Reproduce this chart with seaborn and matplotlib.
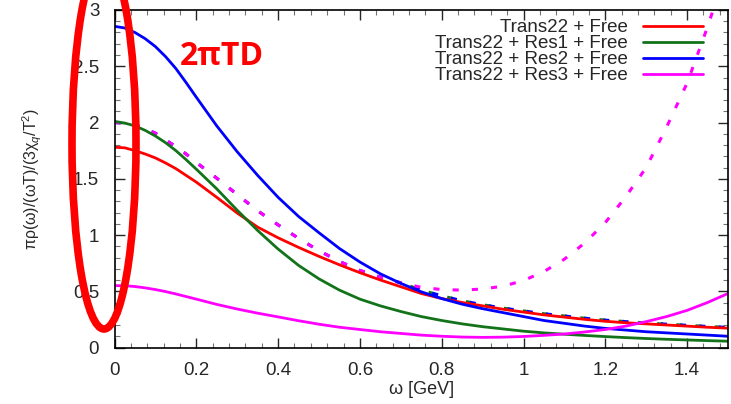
import numpy as np
import pandas as pd
import seaborn as sns
import matplotlib.pyplot as plt
from matplotlib.patches import Ellipse
from matplotlib.ticker import MultipleLocator, FormatStrFormatter

# omega grid [GeV]
omega = [0.0, 0.025, 0.05, 0.075, 0.1, 0.125, 0.15, 0.175, 0.2,
         0.25, 0.3, 0.35, 0.4, 0.45, 0.5, 0.55, 0.6, 0.65, 0.7,
         0.75, 0.8, 0.85, 0.9, 0.95, 1.0, 1.05, 1.1, 1.15, 1.2, 1.25, 1.3, 1.35, 1.4, 1.45, 1.5]

# solid curves
trans_free = [1.78, 1.775, 1.75, 1.72, 1.685, 1.64, 1.59, 1.53, 1.47,
              1.335, 1.195, 1.07, 0.975, 0.89, 0.81, 0.735, 0.665, 0.60, 0.54,
              0.48, 0.435, 0.40, 0.37, 0.34, 0.315, 0.29, 0.27, 0.25, 0.233, 0.22, 0.21, 0.20, 0.19, 0.18, 0.172]
res1_free = [2.01, 1.995, 1.97, 1.93, 1.88, 1.82, 1.75, 1.67, 1.585,
             1.41, 1.22, 1.04, 0.875, 0.73, 0.61, 0.51, 0.43, 0.37, 0.32,
             0.275, 0.24, 0.21, 0.185, 0.165, 0.145, 0.13, 0.118, 0.107, 0.097, 0.088, 0.08, 0.073, 0.067, 0.061, 0.056]
res2_free = [2.855, 2.84, 2.80, 2.745, 2.675, 2.585, 2.48, 2.355, 2.225,
             1.97, 1.74, 1.53, 1.335, 1.165, 1.02, 0.88, 0.76, 0.655, 0.57,
             0.495, 0.435, 0.385, 0.345, 0.31, 0.275, 0.24, 0.215, 0.19, 0.17, 0.155, 0.14, 0.13, 0.12, 0.11, 0.10]
res3_free = [0.55, 0.549, 0.542, 0.53, 0.515, 0.497, 0.476, 0.453, 0.43,
             0.383, 0.342, 0.305, 0.272, 0.238, 0.207, 0.18, 0.16, 0.14, 0.125,
             0.11, 0.10, 0.093, 0.09, 0.092, 0.098, 0.108, 0.12, 0.138, 0.16, 0.19, 0.23, 0.275, 0.33, 0.40, 0.48]

# dashed curves
res2_dash = [2.0, 1.995, 1.98, 1.945, 1.905, 1.845, 1.785, 1.72, 1.645,
             1.505, 1.36, 1.215, 1.09, 0.97, 0.86, 0.765, 0.685, 0.625, 0.575,
             0.51, 0.46, 0.415, 0.38, 0.35, 0.325, 0.30, 0.28, 0.26, 0.243, 0.23, 0.218, 0.207, 0.197, 0.187, 0.178]
res3_dash = [2.0, 1.995, 1.98, 1.945, 1.905, 1.845, 1.785, 1.72, 1.645,
             1.505, 1.36, 1.215, 1.09, 0.97, 0.86, 0.765, 0.685, 0.625, 0.575,
             0.535, 0.515, 0.51, 0.52, 0.545, 0.595, 0.675, 0.785, 0.93, 1.11, 1.34, 1.60, 1.96, 2.35, 2.85, 3.4]
omega_res1_dash = [0.7, 0.75, 0.8, 0.85, 0.9, 0.95, 1.0, 1.05, 1.1, 1.15, 1.2, 1.25, 1.3, 1.35, 1.4, 1.45, 1.5]
res1_dash = [0.575, 0.51, 0.46, 0.415, 0.38, 0.35, 0.325, 0.30, 0.28, 0.26, 0.243, 0.23, 0.218, 0.207, 0.197, 0.187, 0.178]

labels = ['Trans22 + Free', 'Trans22 + Res1 + Free', 'Trans22 + Res2 + Free', 'Trans22 + Res3 + Free']
colors = ['#ff0000', '#13731a', '#0000ff', '#ff00ff']

sns.set_style('ticks')
plt.rcParams['font.family'] = ['Liberation Sans', 'DejaVu Sans']
plt.rcParams['mathtext.fontset'] = 'custom'
plt.rcParams['mathtext.rm'] = 'Liberation Sans'
plt.rcParams['mathtext.it'] = 'Liberation Sans:italic'

fig = plt.figure(figsize=(7.31, 4.04), dpi=100)
ax = fig.add_axes([114.5 / 731, 1 - 347.5 / 404, (728 - 114.5) / 731, (347.5 - 10) / 404])

dash = (0, (2.0, 4.3))
sns.lineplot(x=omega_res1_dash, y=res1_dash, color=colors[1], lw=2.2, linestyle=(3, (2.0, 4.3)), ax=ax)
sns.lineplot(x=omega, y=res2_dash, color=colors[2], lw=2.2, linestyle=dash, ax=ax)
sns.lineplot(x=omega, y=res3_dash, color=colors[3], lw=2.2, linestyle=dash, ax=ax)

for ys, lab, c in zip([trans_free, res1_free, res2_free, res3_free], labels, colors):
    sns.lineplot(x=omega, y=ys, color=c, lw=2, label=lab, ax=ax)

ax.set_xlim(0, 1.5)
ax.set_ylim(0, 3)
ax.xaxis.set_major_locator(MultipleLocator(0.2))
ax.xaxis.set_minor_locator(MultipleLocator(0.04))
ax.yaxis.set_major_locator(MultipleLocator(0.5))
ax.yaxis.set_minor_locator(MultipleLocator(0.1))
ax.xaxis.set_major_formatter(FormatStrFormatter('%g'))
ax.yaxis.set_major_formatter(FormatStrFormatter('%g'))
ax.tick_params(which='both', direction='in', top=True, right=True, labelsize=13.5)
ax.tick_params(which='major', length=7, width=1)
ax.tick_params(which='minor', length=3.5, width=0.8, color='0.45')
ax.tick_params(axis='y', which='major', pad=11)
ax.tick_params(axis='x', which='major', pad=10.5)
for s in ax.spines.values():
    s.set_linewidth(1.2)
    s.set_color('black')

ax.set_xlabel('ω [GeV]', fontsize=13)
ax.set_ylabel('πρ(ω)/(ωT)/(3χ$_q$/T$^2$)', fontsize=11.5)
ax.xaxis.set_label_coords(0.5, -0.1)
ax.yaxis.set_label_coords(-0.115, 0.5)

ax.legend(loc='upper right', bbox_to_anchor=(703 / 731, 1 - 19 / 404), bbox_transform=fig.transFigure,
          frameon=False, markerfirst=False, fontsize=13.5, handlelength=3.2, handletextpad=0.8,
          labelspacing=-0.06, borderpad=0, borderaxespad=0)

# annotation: red ellipse and label
ell = Ellipse((104 / 731, 1 - 144 / 404), 64 / 731, 370 / 404, transform=fig.transFigure,
              fill=False, ec='#ff0000', lw=5.5, zorder=5)
fig.add_artist(ell)
fig.text(222 / 731, 1 - 56.5 / 404, '2πTD', color='#ff0000', fontsize=23, fontweight='bold',
         family=['Open Sans', 'DejaVu Sans'], ha='center', va='center')

fig.savefig('out.png', dpi=100)
